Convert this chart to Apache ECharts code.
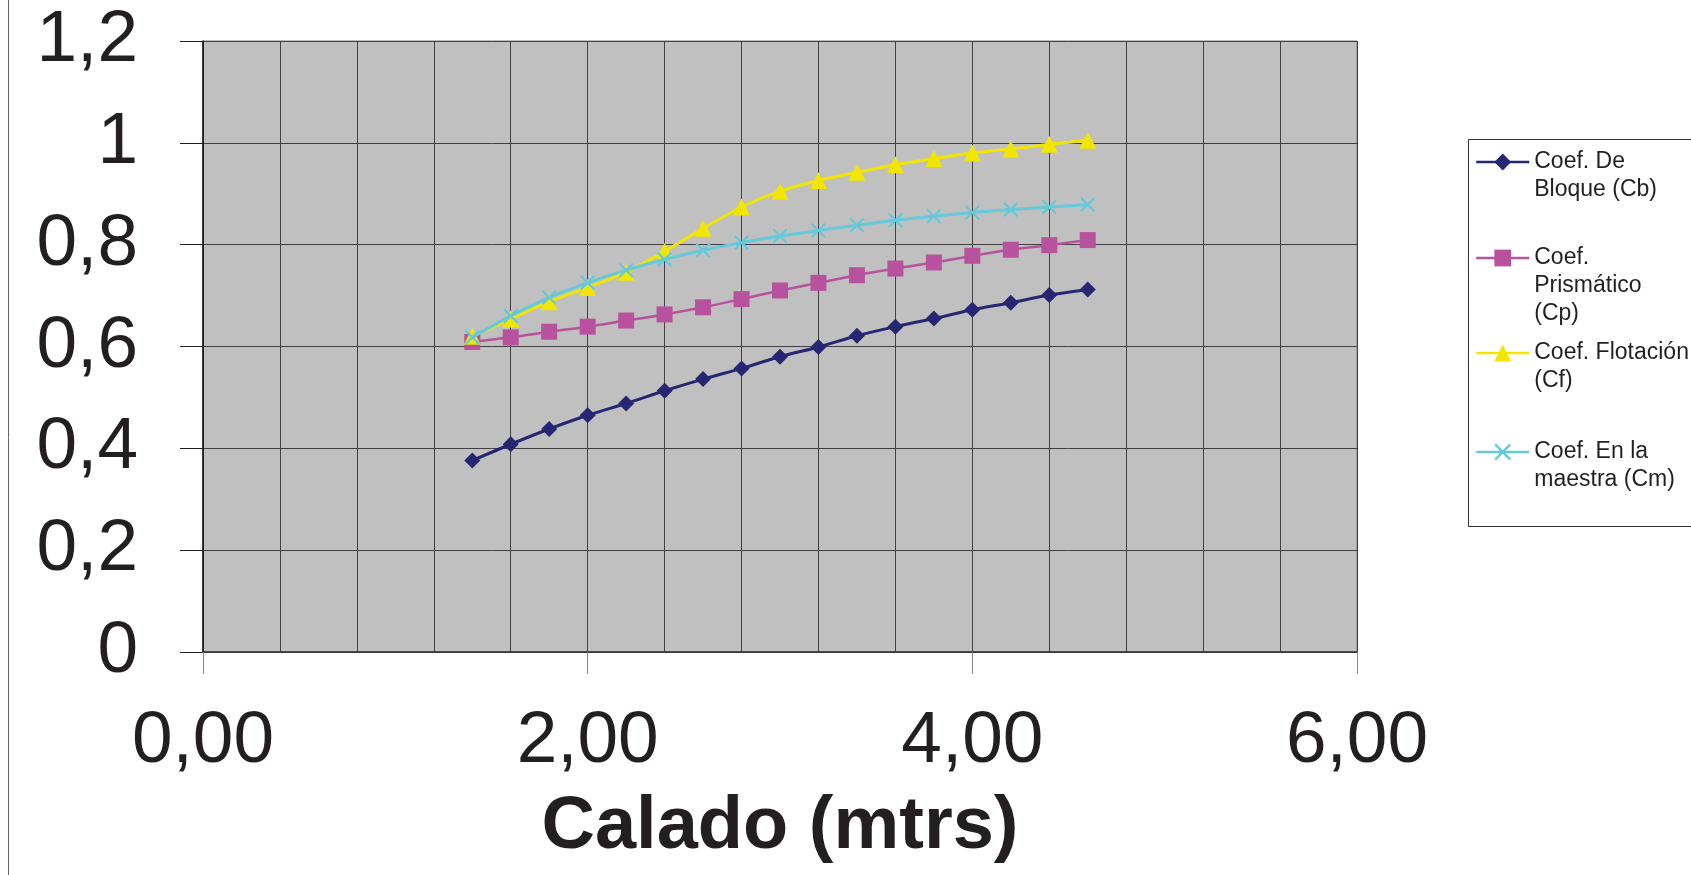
<!DOCTYPE html>
<html>
<head>
<meta charset="utf-8">
<script src="https://cdn.jsdelivr.net/npm/echarts@6/dist/echarts.min.js"></script>
<style>
  html, body { margin: 0; padding: 0; background: #fff; }
  #chart { width: 1691px; height: 875px; }
</style>
</head>
<body>
<div id="chart"></div>
<script>
// calado (m)
var calado = [1.4, 1.6, 1.8, 2.0, 2.2, 2.4, 2.6, 2.8, 3.0, 3.2, 3.4, 3.6, 3.8, 4.0, 4.2, 4.4, 4.6];
// coeficientes
var cb = [0.376, 0.408, 0.438, 0.465, 0.488, 0.513, 0.536, 0.557, 0.580, 0.599, 0.621, 0.639, 0.655, 0.672, 0.686, 0.701, 0.712];
var cp = [0.609, 0.618, 0.629, 0.639, 0.651, 0.663, 0.677, 0.693, 0.710, 0.725, 0.740, 0.753, 0.765, 0.778, 0.790, 0.799, 0.809];
var cf = [0.620, 0.654, 0.688, 0.716, 0.746, 0.787, 0.832, 0.874, 0.905, 0.926, 0.942, 0.957, 0.969, 0.980, 0.988, 0.997, 1.005];
var cm = [0.618, 0.660, 0.696, 0.725, 0.750, 0.771, 0.789, 0.804, 0.817, 0.828, 0.838, 0.848, 0.856, 0.863, 0.869, 0.874, 0.879];

var nombres = ['Coef. De Bloque (Cb)', 'Coef. Prismático (Cp)', 'Coef. Flotación (Cf)', 'Coef. En la maestra (Cm)'];
var etiquetas = ['Coef. De\nBloque (Cb)', 'Coef.\nPrismático\n(Cp)', 'Coef. Flotación\n(Cf)', 'Coef. En la\nmaestra (Cm)'];
var colores = ['#262673', '#b8529e', '#f2e600', '#63c9db'];

var FONT = "'Liberation Sans', Arial, sans-serif";
var cruz = 'path://M0,1 L1,0 L5,4 L9,0 L10,1 L6,5 L10,9 L9,10 L5,6 L1,10 L0,9 L4,5 Z';

function pares(ys) {
    return calado.map(function (x, i) { return [x, ys[i]]; });
}

var myChart = echarts.init(document.getElementById('chart'), null, { renderer: 'canvas' });

// cada entrada de la leyenda por separado; lineas vacias arriba para que
// la primera linea del texto quede a la altura del simbolo
var symY = [162, 258, 353, 452];
var legends = nombres.map(function (n, i) {
    var lineas = etiquetas[i].split('\n').length;
    var texto = new Array(lineas).join(' \n') + etiquetas[i];
    var alto = (2 * lineas - 1) * 28;
    return {
        data: [n],
        orient: 'vertical',
        left: 1475,
        top: symY[i] - alto / 2,
        padding: 0,
        itemWidth: 53,
        itemHeight: 21,
        selectedMode: false,
        lineStyle: { width: 2.5 },
        formatter: function () { return texto; },
        textStyle: {
            fontFamily: FONT,
            fontSize: 23,
            lineHeight: 28,
            color: '#231f20'
        }
    };
});

function serie(i, datos, simbolo, tam, ancho) {
    return {
        name: nombres[i],
        type: 'line',
        data: pares(datos),
        smooth: 0.3,
        symbol: simbolo,
        symbolSize: tam,
        showAllSymbol: true,
        lineStyle: { color: colores[i], width: ancho },
        itemStyle: { color: colores[i] },
        z: 3 + i
    };
}

var option = {
    animation: false,
    backgroundColor: '#fff',
    graphic: [
        { type: 'line', shape: { x1: 8.5, y1: 0, x2: 8.5, y2: 875 }, style: { stroke: '#666', lineWidth: 1 }, z: 0 },
        { type: 'rect', shape: { x: 1468.5, y: 139.5, width: 300, height: 387 }, style: { fill: '#fff', stroke: '#333', lineWidth: 1 }, z: 0 }
    ],
    legend: legends,
    grid: {
        left: 203,
        top: 41,
        right: 334,
        bottom: 223,
        show: true,
        backgroundColor: '#c0c0c0',
        borderColor: '#7f7f7f',
        borderWidth: 1
    },
    xAxis: {
        type: 'value',
        min: 0,
        max: 6,
        interval: 2,
        name: 'Calado (mtrs)',
        nameLocation: 'middle',
        nameGap: 139,
        nameTextStyle: { fontFamily: FONT, fontSize: 74, fontWeight: 'bold', color: '#231f20' },
        axisLine: { show: true, onZero: false, lineStyle: { color: '#333', width: 1.5 } },
        axisTick: { show: true, inside: false, length: 22, lineStyle: { color: '#888', width: 1 } },
        axisLabel: {
            margin: 53,
            fontFamily: FONT,
            fontSize: 73,
            color: '#231f20',
            formatter: function (v) { return v.toFixed(2).replace('.', ','); }
        },
        splitLine: { show: true, lineStyle: { color: '#404040', width: 1 } },
        minorTick: { show: false, splitNumber: 5 },
        minorSplitLine: { show: true, lineStyle: { color: '#404040', width: 1 } }
    },
    yAxis: {
        type: 'value',
        min: 0,
        max: 1.2,
        interval: 0.2,
        axisLine: { show: true, lineStyle: { color: '#111', width: 1.5 } },
        axisTick: { show: true, inside: false, length: 23, lineStyle: { color: '#231f20', width: 1 } },
        axisLabel: {
            margin: 65,
            fontFamily: FONT,
            fontSize: 73,
            color: '#231f20',
            formatter: function (v) { return String(Math.round(v * 10) / 10).replace('.', ','); }
        },
        splitLine: { show: true, lineStyle: { color: '#404040', width: 1 } }
    },
    series: [
        serie(0, cb, 'diamond', 16, 3),
        serie(1, cp, 'rect', 16, 2.5),
        serie(2, cf, 'triangle', 17, 3),
        serie(3, cm, cruz, 15, 3)
    ]
};

myChart.setOption(option);
window.addEventListener('resize', function () {
    myChart.resize();
});
</script>
</body>
</html>
